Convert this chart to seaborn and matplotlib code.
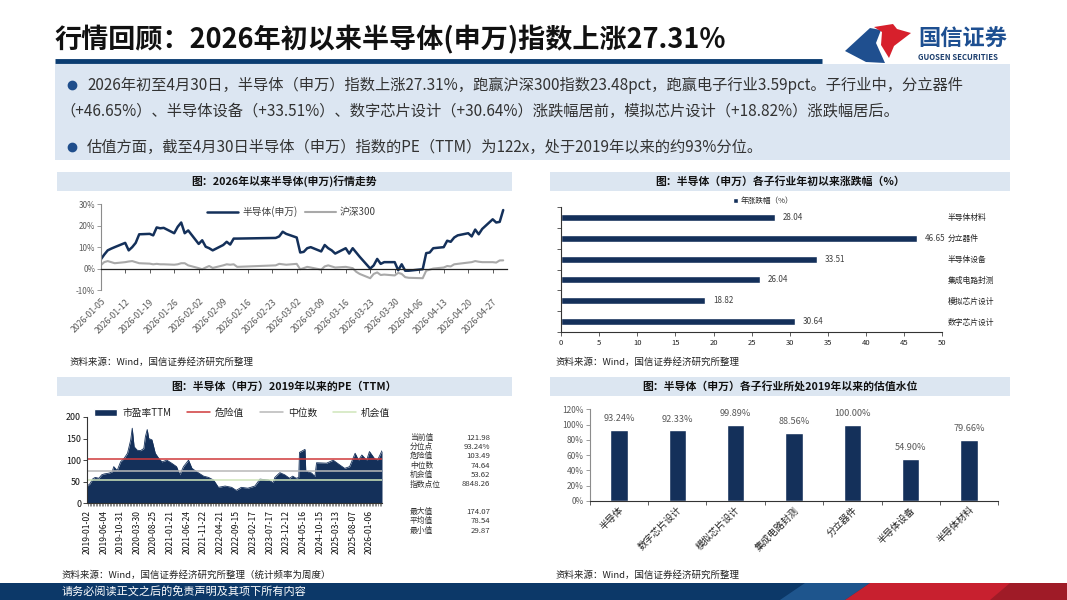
import pandas as pd
import matplotlib
matplotlib.use("Agg")
import matplotlib.pyplot as plt
import matplotlib.dates as mdates
from matplotlib.patches import Rectangle, Polygon, Patch
from matplotlib.lines import Line2D
import seaborn as sns

sns.set_theme(style="white")
plt.rcParams["font.family"] = ["Noto Sans CJK SC", "DejaVu Sans"]
plt.rcParams["axes.unicode_minus"] = False

# ---------------- 数据 ----------------
# 图1：2026年以来走势（交易日，累计涨跌幅 %）
days_jan = [5, 6, 7, 8, 9, 12, 13, 14, 15, 16, 19, 20, 21, 22, 23, 26, 27, 28, 29, 30]
days_feb = [2, 3, 4, 5, 6, 9, 10, 11, 12, 13, 24, 25, 26, 27]
days_mar = [2, 3, 4, 5, 6, 9, 10, 11, 12, 13, 16, 17, 18, 19, 20, 23, 24, 25, 26, 27, 30, 31]
days_apr = [1, 2, 3, 7, 8, 9, 10, 13, 14, 15, 16, 17, 20, 21, 22, 23, 24, 27, 28, 29, 30]

semi_ret = [4.2, 6.5, 8.5, 9.3, 10.0, 12.0, 8.5, 10.0, 12.0, 16.0, 16.2, 15.5, 19.2, 18.8, 19.0, 16.5, 19.5, 21.5, 16.5, 17.8,
            11.5, 13.2, 10.2, 9.5, 8.5, 11.0, 12.5, 11.2, 14.0, 14.0, 14.3, 15.0, 17.2, 16.2,
            14.5, 7.5, 7.8, 9.5, 10.0, 8.0, 11.0, 9.5, 8.5, 7.0, 9.5, 7.0, 9.5, 7.5, 5.5, 0.0, 1.5, 4.5, 2.2, 3.0, 3.0, -0.8,
            2.0, -1.0, -1.0, -0.3, 7.2, 7.5, 9.5, 10.0, 13.0, 12.5, 14.5, 15.5, 16.5, 15.0, 18.2, 16.0, 18.5, 23.0, 21.5, 21.8, 27.31]
hs300_ret = [1.5, 3.0, 3.5, 3.0, 2.5, 3.0, 3.3, 3.5, 3.0, 2.5, 2.3, 2.0, 2.2, 2.0, 2.0, 1.8, 2.0, 2.5, 2.5, 1.5,
             0.2, -0.3, 0.5, 1.2, 0.3, 1.5, 2.0, 1.8, 2.0, 0.8, 1.5, 2.2, 2.0, 1.8,
             2.2, -0.3, 0.2, 0.8, 0.5, -0.5, 1.0, 1.5, 1.0, 0.5, 0.8, 0.5, 0.2, -1.5, -2.5, -4.5, -2.5, -1.8, -3.0, -2.8, -3.2, -2.0,
             -2.5, -4.0, -4.3, -4.5, -1.0, -0.5, 0.0, 0.5, 1.2, 1.0, 2.0, 2.2, 2.8, 3.0, 3.5, 3.2, 3.0, 3.0, 2.8, 3.8, 3.83]
trend_ticks = pd.date_range("2026-01-05", "2026-04-27", freq="7D")

# 图2：各子行业年初以来涨跌幅
sub_names = ["半导体材料", "分立器件", "半导体设备", "集成电路封测", "模拟芯片设计", "数字芯片设计"]
sub_ret = [28.04, 46.65, 33.51, 26.04, 18.82, 30.64]

# 图3：PE(TTM) 2019年以来（周度，按图读取的关键点）
pe_dates = ["2019-01-02", "2019-01-25", "2019-02-22", "2019-03-15", "2019-04-17", "2019-05-13", "2019-06-04",
            "2019-07-19", "2019-08-16", "2019-08-30", "2019-09-30", "2019-10-31", "2019-12-02", "2020-01-02",
            "2020-01-31", "2020-02-14", "2020-03-02", "2020-03-30", "2020-04-29", "2020-05-29", "2020-06-12",
            "2020-06-29", "2020-07-13", "2020-08-11", "2020-09-10", "2020-10-12", "2020-11-09", "2020-12-24",
            "2021-02-05", "2021-03-22", "2021-04-21", "2021-05-24", "2021-07-09", "2021-08-09", "2021-09-22",
            "2021-11-22", "2022-01-06", "2022-02-21", "2022-04-06", "2022-06-06", "2022-08-04", "2022-09-15",
            "2022-10-31", "2022-12-29", "2023-03-03", "2023-04-18", "2023-07-03", "2023-08-16", "2023-08-31",
            "2023-10-16", "2023-11-29", "2024-01-12", "2024-02-09", "2024-03-12", "2024-04-04", "2024-04-11",
            "2024-05-31", "2024-06-07", "2024-07-30", "2024-08-29", "2024-09-13", "2024-12-13", "2025-02-11",
            "2025-04-11", "2025-05-26", "2025-07-10", "2025-08-29", "2025-09-29", "2025-10-29", "2025-12-12",
            "2026-01-06", "2026-02-20", "2026-03-20", "2026-04-30"]
pe_vals = [40, 45, 57, 60, 58, 66, 68,
           70, 73, 85, 76, 96, 104, 116,
           147, 174, 131, 123, 122, 127, 154,
           171, 150, 147, 116, 104, 96, 100,
           93, 85, 66, 85, 100, 81, 73,
           63, 60, 54, 37, 40, 37, 30,
           37, 35, 40, 56, 54, 48, 60,
           71, 66, 58, 63, 58, 60, 118,
           125, 75, 70, 62, 94, 93, 100,
           89, 81, 85, 116, 100, 112, 100,
           120, 104, 100, 121.98]
pe_danger = 103.49
pe_median = 74.64
pe_chance = 53.62
pe_tick_labels = ["2019-01-02", "2019-06-04", "2019-10-31", "2020-03-30", "2020-08-25", "2021-01-21",
                  "2021-06-24", "2021-11-22", "2022-04-21", "2022-09-15", "2023-02-17", "2023-07-17",
                  "2023-12-12", "2024-05-16", "2024-10-15", "2025-03-13", "2025-08-07", "2026-01-06"]
stat_names_1 = ["当前值", "分位点", "危险值", "中位数", "机会值", "指数点位"]
stat_vals_1 = ["121.98", "93.24%", "103.49", "74.64", "53.62", "8848.26"]
stat_names_2 = ["最大值", "平均值", "最小值"]
stat_vals_2 = ["174.07", "78.54", "29.87"]

# 图4：各子行业估值分位
val_names = ["半导体", "数字芯片设计", "模拟芯片设计", "集成电路封测", "分立器件", "半导体设备", "半导体材料"]
val_pct = [93.24, 92.33, 99.89, 88.56, 100.00, 54.90, 79.66]

# ---------------- 画布 ----------------
W, H = 1067, 600
NAVY = "#14305a"
GREY_TXT = "#595959"
BAR_BG = "#dce6f1"

fig = plt.figure(figsize=(W / 100, H / 100), dpi=100)


def px_rect(x0, y0, x1, y1):
    return [x0 / W, 1 - y1 / H, (x1 - x0) / W, (y1 - y0) / H]


bg = fig.add_axes([0, 0, 1, 1], zorder=0)
bg.set_xlim(0, W)
bg.set_ylim(H, 0)
bg.axis("off")

# 标题
bg.text(55, 40, "行情回顾：2026年初以来半导体(申万)指数上涨27.31%", fontsize=19.5, fontweight="bold",
        va="center", ha="left", color="#111111")
bg.plot([55, 822], [61, 61], color="#0b3d72", lw=3.5, solid_capstyle="butt")

# logo
bg.add_patch(Polygon([(845, 51), (870, 28), (881, 30), (876, 43), (885, 63), (866, 62)], closed=True,
                     fc="#1f4f8f", ec="none"))
bg.add_patch(Polygon([(874, 27), (893, 24), (897, 29), (911, 33), (894, 46), (889, 58), (881, 45), (882, 32)],
                     closed=True, fc="#d7202c", ec="none"))
bg.text(918, 39, "国信证券", fontsize=16, fontweight="bold", color="#1d4f91", va="center", ha="left")
bg.text(918, 57, "GUOSEN SECURITIES", fontsize=5.6, fontweight="bold", color="#1d3f6e", va="center", ha="left")

# 要点文本框
bg.add_patch(Rectangle((55, 64), 955, 96, fc="#dce6f2", ec="none"))
bg.plot([72, 72], [85, 147], "o", ms=6, color="#1f4e8c", ls="none")
bg.text(87, 85, "2026年初至4月30日，半导体（申万）指数上涨27.31%，跑赢沪深300指数23.48pct，跑赢电子行业3.59pct。子行业中，分立器件",
        fontsize=11, va="center", color="#333333")
bg.text(60, 111, "（+46.65%）、半导体设备（+33.51%）、数字芯片设计（+30.64%）涨跌幅居前，模拟芯片设计（+18.82%）涨跌幅居后。",
        fontsize=11, va="center", color="#333333")
bg.text(87, 147, "估值方面，截至4月30日半导体（申万）指数的PE（TTM）为122x，处于2019年以来的约93%分位。",
        fontsize=11, va="center", color="#333333")

# 图标题条
panel_titles = [
    (57, 512, 172, "图：2026年以来半导体(申万)行情走势"),
    (550, 1010, 172, "图：半导体（申万）各子行业年初以来涨跌幅（%）"),
    (57, 512, 377, "图：半导体（申万）2019年以来的PE（TTM）"),
    (550, 1010, 377, "图：半导体（申万）各子行业所处2019年以来的估值水位"),
]
for x0, x1, y0, t in panel_titles:
    bg.add_patch(Rectangle((x0, y0), x1 - x0, 19, fc=BAR_BG, ec="none"))
    bg.text((x0 + x1) / 2, y0 + 9.5, t, fontsize=7.8, fontweight="bold", ha="center", va="center", color="#111111")

src = "资料来源：Wind，国信证券经济研究所整理"
bg.text(70, 362, src, fontsize=6.8, va="center", color="#222222")
bg.text(555, 362, src, fontsize=6.8, va="center", color="#222222")
bg.text(62, 575, src + "（统计频率为周度）", fontsize=6.8, va="center", color="#222222")
bg.text(555, 575, src, fontsize=6.8, va="center", color="#222222")

# 页脚
bg.add_patch(Rectangle((0, 583), W, 17, fc="#0c3868", ec="none"))
bg.add_patch(Polygon([(780, 600), (805, 583), (870, 583), (845, 600)], closed=True, fc="#2b69a6", ec="none", alpha=0.6))
bg.add_patch(Polygon([(845, 600), (870, 583), (1067, 583), (1067, 600)], closed=True, fc="#c8202f", ec="none"))
bg.add_patch(Polygon([(990, 600), (1010, 583), (1067, 583), (1067, 600)], closed=True, fc="#8e1a24", ec="none", alpha=0.7))
bg.text(62, 591.5, "请务必阅读正文之后的免责声明及其项下所有内容", fontsize=8, color="white", va="center")

# ---------------- 图1：行情走势 ----------------
trend = pd.DataFrame({
    "date": pd.to_datetime([f"2026-01-{d:02d}" for d in days_jan] + [f"2026-02-{d:02d}" for d in days_feb]
                           + [f"2026-03-{d:02d}" for d in days_mar] + [f"2026-04-{d:02d}" for d in days_apr]),
    "semi": semi_ret,
    "hs300": hs300_ret,
})
ax1 = fig.add_axes(px_rect(100.7, 204.3, 506.7, 290), zorder=1)
ax1.set_facecolor("none")
sns.lineplot(data=trend, x="date", y="hs300", ax=ax1, color="#a9a9a9", lw=1.5, label="沪深300")
sns.lineplot(data=trend, x="date", y="semi", ax=ax1, color=NAVY, lw=1.8, label="半导体(申万)")
ax1.set_xlim(pd.Timestamp("2026-01-05"), pd.Timestamp("2026-05-01"))
ax1.set_ylim(-10, 30)
ax1.set_yticks([-10, 0, 10, 20, 30])
ax1.set_yticklabels([f"{v}%" for v in [-10, 0, 10, 20, 30]])
ax1.set_xlabel("")
ax1.set_ylabel("")
for s in ["top", "right"]:
    ax1.spines[s].set_visible(False)
ax1.spines["left"].set_color("#8c8c8c")
ax1.spines["left"].set_linewidth(0.8)
ax1.spines["bottom"].set_position(("data", 0))
ax1.spines["bottom"].set_color("#222222")
ax1.spines["bottom"].set_linewidth(0.9)
ax1.set_xticks(trend_ticks)
ax1.tick_params(axis="x", bottom=True, length=3, width=0.6, color="#444444", labelbottom=False)
ax1.tick_params(axis="y", left=True, length=3, width=0.6, color="#8c8c8c", labelsize=5.8, labelcolor=GREY_TXT, pad=1)
sec = ax1.secondary_xaxis(0)
sec.set_xticks(trend_ticks)
sec.set_xticklabels([d.strftime("%Y-%m-%d") for d in trend_ticks])
sec.tick_params(length=0, labelsize=6.3, labelcolor=GREY_TXT, pad=5)
sec.spines["bottom"].set_visible(False)
plt.setp(sec.get_xticklabels(), rotation=45, ha="right", rotation_mode="anchor")
h, l = ax1.get_legend_handles_labels()
ax1.legend(h[::-1], l[::-1], loc="upper center", bbox_to_anchor=(0.47, 1.08), ncol=2, frameon=False,
           fontsize=7, handlelength=3.2, columnspacing=0.8, handletextpad=0.4, labelcolor="#404040")

# ---------------- 图2：子行业涨跌幅 ----------------
ax2 = fig.add_axes(px_rect(561, 207, 942.3, 332), zorder=1)
ax2.set_facecolor("none")
sns.barplot(x=sub_ret, y=sub_names, ax=ax2, color=NAVY, saturation=1, width=0.33, orient="h")
ax2.set_xlim(0, 50)
ax2.set_ylim(5.5, -0.5)
ax2.set_xticks(range(0, 51, 5))
ax2.yaxis.tick_right()
ax2.tick_params(axis="y", which="major", length=0, labelsize=5.6, pad=4, labelcolor="#222222")
ax2.set_yticks([i - 0.5 for i in range(7)], minor=True)
ax2.tick_params(axis="y", which="minor", left=True, right=False, length=3, width=0.6, color="#444444")
ax2.tick_params(axis="x", bottom=True, length=3, width=0.6, color="#444444", labelsize=5.5, labelcolor="#222222", pad=2)
for s in ["top", "right"]:
    ax2.spines[s].set_visible(False)
for s in ["left", "bottom"]:
    ax2.spines[s].set_color("#333333")
    ax2.spines[s].set_linewidth(0.8)
ax2.bar_label(ax2.containers[0], fmt="%.2f", padding=6, fontsize=5.8, color="#404040")
ax2.set_xlabel("")
ax2.set_ylabel("")
ax2.legend([Patch(facecolor=NAVY)], ["年涨跌幅（%）"], loc="lower center", bbox_to_anchor=(0.53, 0.96),
           frameon=False, fontsize=5.5, handlelength=0.7, handleheight=0.7, handletextpad=0.4)

# ---------------- 图3：PE(TTM) ----------------
pe = pd.DataFrame({"date": pd.to_datetime(pe_dates), "pe": pe_vals})
ax3 = fig.add_axes(px_rect(87.3, 417, 382, 503.3), zorder=1)
ax3.set_facecolor("none")
ax3.fill_between(pe["date"], pe["pe"], 0, color=NAVY, lw=0)
sns.lineplot(data=pe, x="date", y="pe", ax=ax3, color=NAVY, lw=0.6)
ax3.axhline(pe_danger, color="#d0393b", lw=1.1)
ax3.axhline(pe_median, color="#b8b8b8", lw=1.1)
ax3.axhline(pe_chance, color="#cfe6bb", lw=1.1)
ax3.set_xlim(pe["date"].iloc[0], pe["date"].iloc[-1])
ax3.set_ylim(0, 200)
ax3.set_yticks(range(0, 201, 50))
ax3.set_xticks(pd.to_datetime(pe_tick_labels))
ax3.set_xticklabels(pe_tick_labels, rotation=90)
ax3.xaxis.set_minor_locator(mdates.WeekdayLocator(byweekday=mdates.WE, interval=2))
ax3.tick_params(axis="x", which="major", length=3, width=0.5, labelsize=6.2, pad=2, labelcolor="#111111")
ax3.tick_params(axis="x", which="minor", bottom=True, length=2.5, width=0.4, color="#333333")
ax3.tick_params(axis="y", left=True, length=3, width=0.6, labelsize=6.4, pad=1.5, labelcolor="#111111")
ax3.set_xlabel("")
ax3.set_ylabel("")
for s in ["top", "right"]:
    ax3.spines[s].set_visible(False)
for s in ["left", "bottom"]:
    ax3.spines[s].set_color("#333333")
    ax3.spines[s].set_linewidth(0.8)
pe_handles = [Patch(facecolor=NAVY), Line2D([], [], color="#d0393b", lw=1.1),
              Line2D([], [], color="#b8b8b8", lw=1.1), Line2D([], [], color="#cfe6bb", lw=1.1)]
ax3.legend(pe_handles, ["市盈率TTM", "危险值", "中位数", "机会值"], loc="center", bbox_to_anchor=(0.525, 1.05),
           ncol=4, frameon=False, fontsize=7, handlelength=2.4, handleheight=0.7, columnspacing=1.6,
           handletextpad=0.5, labelcolor="#222222")

for i, (n, v) in enumerate(zip(stat_names_1, stat_vals_1)):
    bg.text(410, 437.5 + i * 9.4, n, fontsize=5.6, va="center", ha="left", color="#333333")
    bg.text(490, 437.5 + i * 9.4, v, fontsize=5.6, va="center", ha="right", color="#333333")
for i, (n, v) in enumerate(zip(stat_names_2, stat_vals_2)):
    bg.text(410, 512 + i * 9.4, n, fontsize=5.6, va="center", ha="left", color="#333333")
    bg.text(490, 512 + i * 9.4, v, fontsize=5.6, va="center", ha="right", color="#333333")

# ---------------- 图4：估值水位 ----------------
ax4 = fig.add_axes(px_rect(589.8, 409.3, 998.2, 501), zorder=1)
ax4.set_facecolor("none")
sns.barplot(x=val_names, y=val_pct, ax=ax4, color=NAVY, saturation=1, width=0.3)
ax4.set_xlim(-0.5, 6.5)
ax4.set_ylim(0, 120)
ax4.set_yticks(range(0, 121, 20))
ax4.set_yticklabels([f"{v}%" for v in range(0, 121, 20)])
ax4.tick_params(axis="y", left=True, length=3, width=0.6, color="#8c8c8c", labelsize=6, labelcolor=GREY_TXT, pad=1.5)
ax4.tick_params(axis="x", which="major", length=0, labelsize=6.8, pad=3, labelcolor="#222222")
ax4.set_xticks([i - 0.5 for i in range(8)], minor=True)
ax4.tick_params(axis="x", which="minor", bottom=True, length=3, width=0.6, color="#444444")
plt.setp(ax4.get_xticklabels(), rotation=45, ha="right", rotation_mode="anchor")
for s in ["top", "right"]:
    ax4.spines[s].set_visible(False)
ax4.spines["left"].set_color("#8c8c8c")
ax4.spines["left"].set_linewidth(0.8)
ax4.spines["bottom"].set_color("#333333")
ax4.spines["bottom"].set_linewidth(0.8)
ax4.bar_label(ax4.containers[0], labels=[f"{v:.2f}%" for v in val_pct], padding=5, fontsize=6.6, color=GREY_TXT)
ax4.set_xlabel("")
ax4.set_ylabel("")

fig.savefig("out.png", dpi=100)
